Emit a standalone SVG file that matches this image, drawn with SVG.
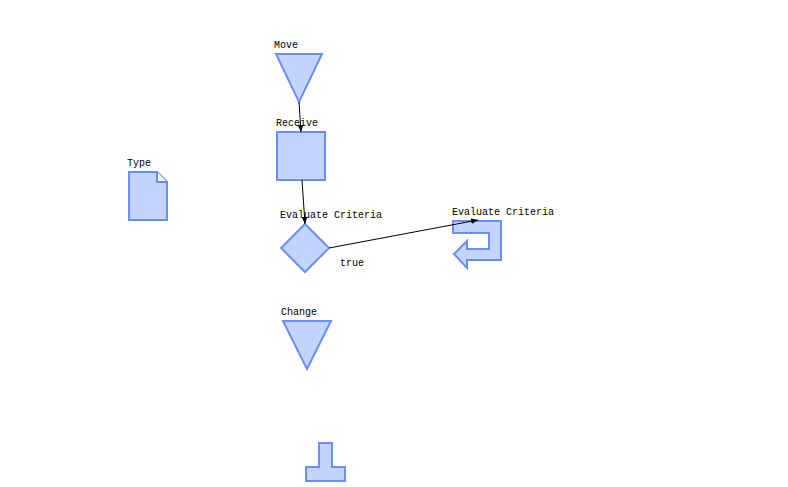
<svg xmlns="http://www.w3.org/2000/svg" width="788" height="487" viewBox="0 0 788 487">
  <style>
    .shape { fill: #c3d4ff; stroke: #6b8eff; stroke-width: 2; }
    .label { font-family: "Liberation Mono", "DejaVu Sans Mono", monospace; font-size: 10px; fill: #000; }
    .edge { fill: none; stroke: #000; stroke-width: 1; }
  </style>
  <defs>
    <marker id="arrow" viewBox="0 0 10 10" refX="10" refY="5" markerWidth="7" markerHeight="7" orient="auto" markerUnits="userSpaceOnUse">
      <path d="M0,1 L10,5 L0,9 Z" fill="#000"/>
    </marker>
  </defs>
  <rect width="788" height="487" fill="#fff"/>

  <g id="move">
    <polygon class="shape" points="276,54 322,54 299,102"/>
    <text class="label" x="274" y="48">Move</text>
  </g>

  <g id="receive">
    <rect class="shape" x="277" y="132" width="48" height="48"/>
    <text class="label" x="276" y="126">Receive</text>
  </g>

  <g id="type">
    <path class="shape" d="M129,172 L157,172 L167,182 L167,220 L129,220 Z"/>
    <path class="shape" d="M157,172 L157,182 L167,182" style="fill:#fff"/>
    <text class="label" x="127" y="166">Type</text>
  </g>

  <g id="evaluate-criteria-decision">
    <polygon class="shape" points="305,224 329,248 305,272 281,248"/>
    <text class="label" x="280" y="218">Evaluate Criteria</text>
  </g>

  <g id="evaluate-criteria-loop">
    <polygon class="shape" points="453,221 501,221 501,260 467,260 467,268 454,254 467,241 467,249 489,249 489,233 453,233"/>
    <text class="label" x="452" y="215">Evaluate Criteria</text>
  </g>

  <g id="change">
    <polygon class="shape" points="283,321 331,321 307,369"/>
    <text class="label" x="281" y="315">Change</text>
  </g>

  <g id="terminator">
    <polygon class="shape" points="319,443 332,443 332,467 345,467 345,481 306,481 306,467 319,467"/>
  </g>

  <!-- connectors drawn above the nodes -->
  <g id="connectors">
    <line class="edge" x1="299" y1="102" x2="301" y2="132" marker-end="url(#arrow)"/>
    <line class="edge" x1="302" y1="180" x2="305" y2="224" marker-end="url(#arrow)"/>
    <line class="edge" x1="329" y1="248" x2="478" y2="220" marker-end="url(#arrow)"/>
    <text class="label" x="340" y="266">true</text>
  </g>
</svg>
